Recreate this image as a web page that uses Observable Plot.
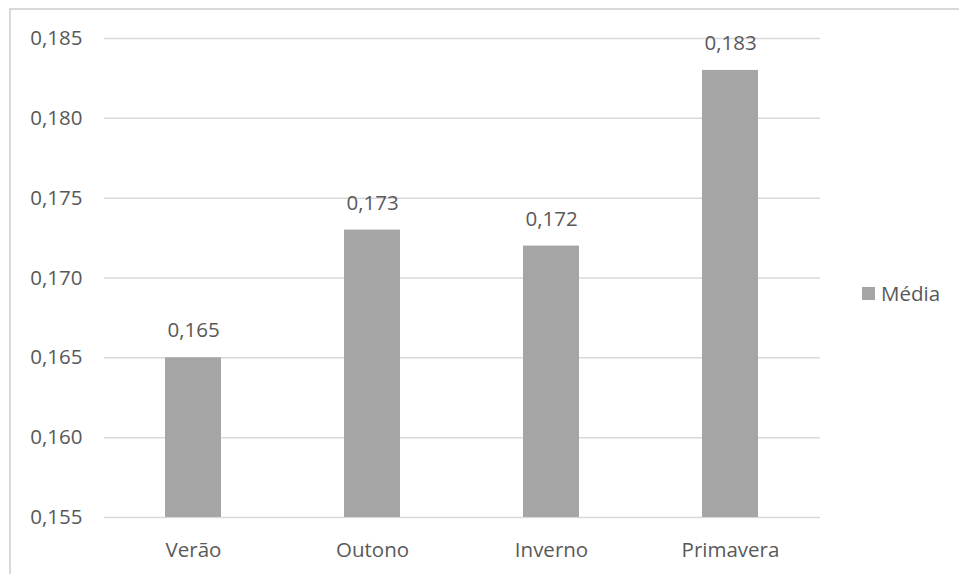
<!DOCTYPE html>
<html>
<head>
<meta charset="utf-8">
<script src="https://cdn.jsdelivr.net/npm/d3@7"></script>
<script src="https://cdn.jsdelivr.net/npm/@observablehq/plot@0.6"></script>
<style>
  html, body { margin: 0; padding: 0; background: #fff; }
  #wrap { position: relative; width: 959px; height: 574px; overflow: hidden; }
  #frame { position: absolute; left: 9px; top: 8px; width: 1000px; height: 700px;
           border-left: 2px solid #d9d9d9; border-top: 2px solid #d9d9d9; box-sizing: border-box; }
  #chart { position: absolute; left: 0; top: 0; }
  #legend { position: absolute; left: 862px; top: 279px; font: 20.5px "Open Sans", sans-serif;
            color: #595959; display: flex; align-items: center; gap: 6px; }
  #legend .sw { width: 13px; height: 13px; background: #a5a5a5; }
</style>
</head>
<body>
<div id="wrap">
  <div id="frame"></div>
  <div id="chart"></div>
  <div id="legend"><span class="sw"></span><span>Média</span></div>
</div>
<script>
// Seasonal mean values
const seasons = ["Verão", "Outono", "Inverno", "Primavera"];
const means = [0.165, 0.173, 0.172, 0.183];
const yTicks = [0.155, 0.160, 0.165, 0.170, 0.175, 0.180, 0.185];

const rows = seasons.map((s, i) => ({season: s, value: means[i]}));
const fmt = v => v.toFixed(3).replace(".", ",");
const font = '"Open Sans", sans-serif';
const size = 20.5;

const chart = Plot.plot({
  width: 959,
  height: 574,
  marginLeft: 104,
  marginRight: 139,
  marginTop: 38,
  marginBottom: 57,
  style: {fontFamily: font, fontSize: size + "px", color: "#595959", background: "transparent"},
  x: {domain: seasons, paddingInner: 0.687, paddingOuter: 0.3435, label: null},
  y: {domain: [0.155, 0.185], label: null},
  marks: [
    Plot.ruleY(yTicks, {stroke: "#d9d9d9", strokeWidth: 1.5}),
    Plot.barY(rows, {x: "season", y1: 0.155, y2: "value", fill: "#a5a5a5"}),
    Plot.text(rows, {x: "season", y: "value", text: d => fmt(d.value), dy: -27,
                     fill: "#595959", fontSize: size}),
    Plot.axisY(yTicks, {tickFormat: fmt, tickSize: 0, tickPadding: 22, fontSize: size,
                        fill: "#595959", label: null}),
    Plot.axisX({tickSize: 0, tickPadding: 25, fontSize: size, fill: "#595959", label: null})
  ]
});
document.getElementById("chart").appendChild(chart);
</script>
</body>
</html>
